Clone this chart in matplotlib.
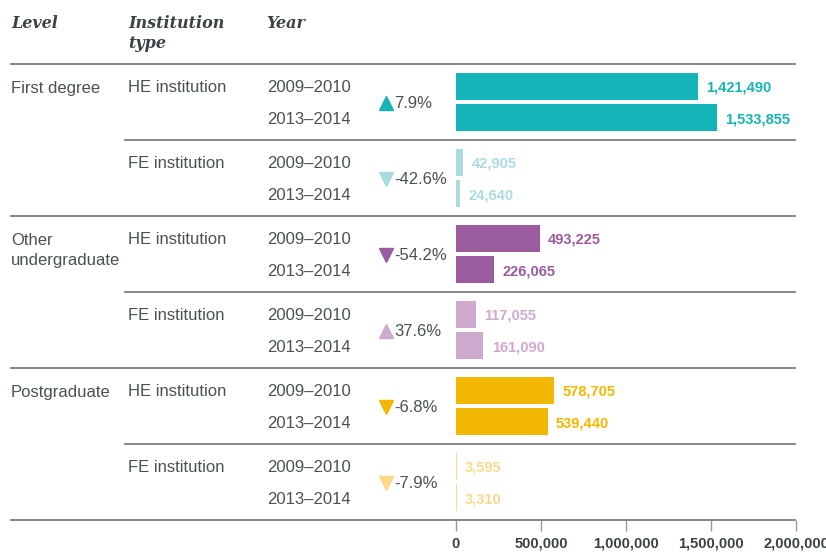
import numpy as np
import matplotlib.pyplot as plt
import matplotlib.transforms as mtransforms

# data
levels = ["First degree", "Other\nundergraduate", "Postgraduate"]
institutions = ["HE institution", "FE institution"]
years = ["2009\u20132010", "2013\u20132014"]
students_0910 = [1421490, 42905, 493225, 117055, 578705, 3595]
students_1314 = [1533855, 24640, 226065, 161090, 539440, 3310]
colors = ["#14b4b8", "#a9dcdf", "#9b5b9f", "#cfaacf", "#f2b700", "#fbd88a"]
xticks = [0, 500000, 1000000, 1500000, 2000000]

W, H = 826, 552
txt = "#4a5154"
linec = "#6e7274"
body = ["Liberation Sans", "DejaVu Sans"]
head = ["DejaVu Serif"]

fig = plt.figure(figsize=(W / 100, H / 100), dpi=100)
ax = fig.add_axes([456 / W, (H - 520) / H, 340 / W, 456 / H])
ax.set_xlim(0, 2000000)
ax.set_ylim(6, 0)

# x in figure pixels / W, y in row units
tr = mtransforms.blended_transform_factory(fig.transFigure, ax.transData)

off = [0.29, 0.71]
bh = 0.355
dy = 0.025  # small nudge so text sits level with the bars
n = len(students_0910)
for i in range(n):
    vals = [students_0910[i], students_1314[i]]
    for j, v in enumerate(vals):
        y = i + off[j]
        ax.barh(y, v, height=bh, color=colors[i])
        ax.annotate(f"{v:,}", (v, y + dy), xytext=(6, 0), textcoords="offset points",
                    va="center", ha="left", fontsize=10.5, fontweight="bold",
                    color=colors[i], family=body)
        ax.text(267 / W, y + dy, years[j], transform=tr, va="center", ha="left",
                fontsize=12, color=txt, family=body)
    ax.text(128 / W, i + off[0] + dy, institutions[i % 2], transform=tr, va="center",
            ha="left", fontsize=12, color=txt, family=body)
    # percentage change with arrow marker
    pct = (vals[1] - vals[0]) / vals[0] * 100
    ax.plot([386 / W], [i + 0.51], marker="^" if pct > 0 else "v", markersize=9.5,
            color=colors[i], transform=tr, clip_on=False, linestyle="none")
    ax.text(394 / W, i + 0.5 + dy, f"{pct:.1f}%", transform=tr, va="center", ha="left",
            fontsize=12, color=txt, family=body)
    # row separators
    if i % 2 == 1:
        ax.plot([125 / W, 795 / W], [i, i], transform=tr, color=linec, lw=1.2,
                clip_on=False)

for k, lev in enumerate(levels):
    ax.text(11 / W, 2 * k + off[0] - 0.07, lev, transform=tr, va="top", ha="left",
            fontsize=12, color=txt, family=body, linespacing=1.45)
    ax.plot([11 / W, 795 / W], [2 * k, 2 * k], transform=tr, color=linec, lw=1.2,
            clip_on=False)
ax.plot([11 / W, 795 / W], [6, 6], transform=tr, color=linec, lw=1.2, clip_on=False)

# header
hdr = dict(fontsize=11.5, fontweight="bold", fontstyle="italic", color="#3b4245",
           family=head, va="center", ha="left")
fig.text(11 / W, 1 - 23 / H, "Level", **hdr)
fig.text(128 / W, 1 - 23 / H, "Institution", **hdr)
fig.text(128 / W, 1 - 43 / H, "type", **hdr)
fig.text(266 / W, 1 - 23 / H, "Year", **hdr)

for s in ax.spines.values():
    s.set_visible(False)
ax.set_yticks([])
ax.set_xticks(xticks)
ax.set_xticklabels([f"{t:,}" for t in xticks], fontsize=10.5, fontweight="bold",
                   color="#3b4245", family=body)
ax.tick_params(axis="x", length=8, width=1, color="#999999", pad=4)

fig.savefig("out.png", dpi=100)
